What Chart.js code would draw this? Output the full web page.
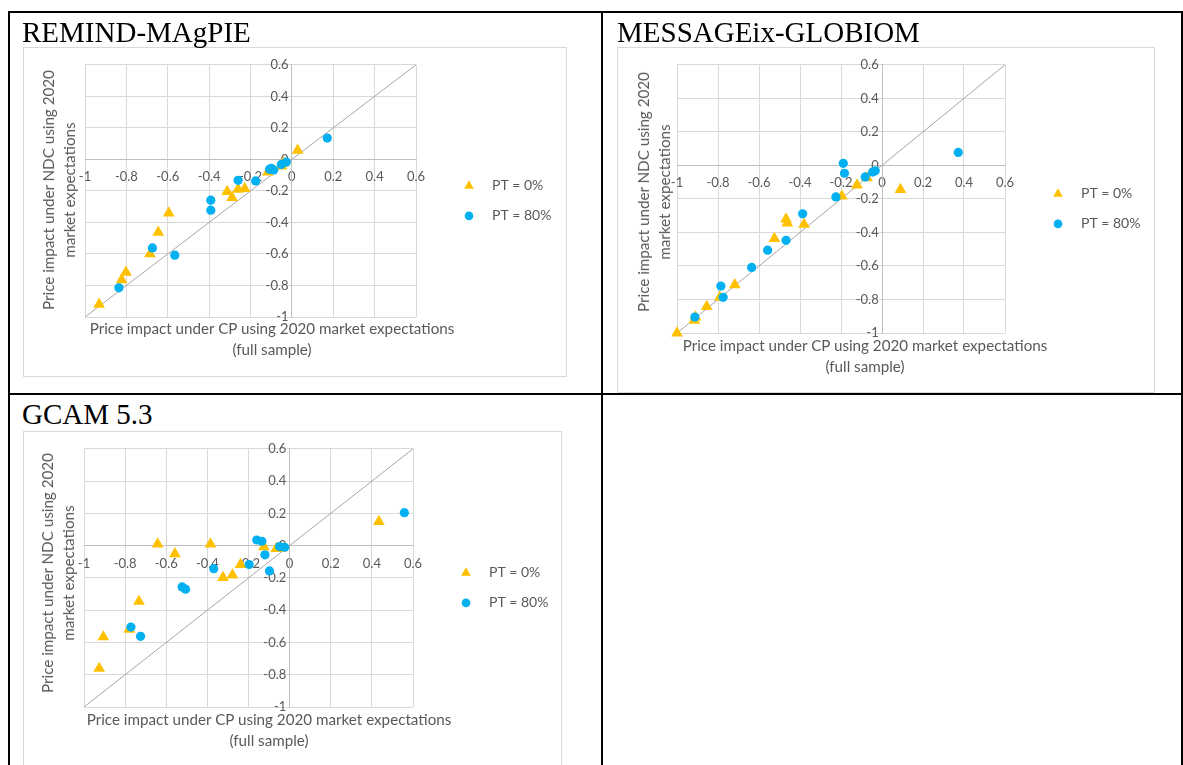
<!DOCTYPE html>
<html>
<head>
<meta charset="utf-8">
<script src="https://cdn.jsdelivr.net/npm/chart.js@4.4.1/dist/chart.umd.min.js"></script>
<style>
  body { margin: 0; background: #fff; width: 1183px; height: 765px; overflow: hidden; position: relative; font-family: Lato, sans-serif; }
  .rule { position: absolute; background: #000; }
  .cap { position: absolute; font-family: "Liberation Serif", "Times New Roman", serif; font-size: 29px; line-height: 28px; color: #000; white-space: nowrap; }
  .panel { position: absolute; }
  .frame { position: absolute; left: 0; top: 0; right: 0; bottom: 0; border: 1px solid #d9d9d9; }
  .panel canvas { position: absolute; left: 0; top: 0; }
  .xt, .yt { position: absolute; color: #595959; font-size: 15.2px; line-height: 21px; text-align: center; white-space: nowrap; }
  .xt { transform: translateX(-50%); }
  .yt { transform: translate(-50%, -50%) rotate(-90deg); }
</style>
</head>
<body>

<div class="rule" style="left:8px;top:11px;width:1175px;height:2px"></div>
<div class="rule" style="left:8px;top:11px;width:2px;height:754px"></div>
<div class="rule" style="left:601px;top:11px;width:2px;height:754px"></div>
<div class="rule" style="left:1181px;top:11px;width:2px;height:754px"></div>
<div class="rule" style="left:8px;top:393px;width:1175px;height:2px"></div>

<div class="panel" style="left:23px;top:47px;width:544px;height:330px">
  <div class="frame"></div>
  <canvas id="remind" width="544" height="330"></canvas>
  <div class="yt" style="left:36px;top:143px">Price impact under NDC using 2020<br>market expectations</div>
  <div class="xt" style="left:249px;top:271px">Price impact under CP using 2020 market expectations<br>(full sample)</div>
</div>

<div class="panel" style="left:617px;top:47px;width:538px;height:346px">
  <div class="frame"></div>
  <canvas id="message" width="538" height="346"></canvas>
  <div class="yt" style="left:37px;top:145px">Price impact under NDC using 2020<br>market expectations</div>
  <div class="xt" style="left:248px;top:288px">Price impact under CP using 2020 market expectations<br>(full sample)</div>
</div>

<div class="panel" style="left:23px;top:431px;width:539px;height:345px">
  <div class="frame"></div>
  <canvas id="gcam" width="539" height="345"></canvas>
  <div class="yt" style="left:35px;top:142px">Price impact under NDC using 2020<br>market expectations</div>
  <div class="xt" style="left:246px;top:278px">Price impact under CP using 2020 market expectations<br>(full sample)</div>
</div>

<div class="cap" style="left:22px;top:18px">REMIND-MAgPIE</div>
<div class="cap" style="left:617px;top:18px">MESSAGEix-GLOBIOM</div>
<div class="cap" style="left:22px;top:400px">GCAM 5.3</div>

<script>
const TICKS = [-1, -0.8, -0.6, -0.4, -0.2, 0, 0.2, 0.4, 0.6];
const DIAGONAL = [-1, 0.6];
const LABELS = ['PT = 0%', 'PT = 80%'];

// REMIND-MAgPIE
const remindPt0X = [-0.932, -0.823, -0.802, -0.686, -0.646, -0.595, -0.313, -0.289, -0.26, -0.228, -0.116, -0.05, -0.042, 0.028];
const remindPt0Y = [-0.92, -0.764, -0.716, -0.6, -0.463, -0.341, -0.204, -0.242, -0.19, -0.185, -0.08, -0.042, -0.023, 0.058];
const remindPt80X = [-0.836, -0.674, -0.566, -0.392, -0.392, -0.26, -0.175, -0.108, -0.1, -0.088, -0.051, -0.027, 0.171];
const remindPt80Y = [-0.815, -0.562, -0.608, -0.259, -0.322, -0.133, -0.137, -0.063, -0.057, -0.067, -0.032, -0.017, 0.135];

// MESSAGEix-GLOBIOM
const messagePt0X = [-1.0, -0.915, -0.91, -0.855, -0.791, -0.718, -0.525, -0.468, -0.462, -0.38, -0.196, -0.122, -0.073, 0.09];
const messagePt0Y = [-1.0, -0.925, -0.905, -0.842, -0.787, -0.713, -0.437, -0.32, -0.345, -0.352, -0.184, -0.118, -0.075, -0.144];
const messagePt80X = [-0.913, -0.786, -0.775, -0.636, -0.558, -0.468, -0.387, -0.225, -0.189, -0.183, -0.082, -0.046, -0.033, 0.372];
const messagePt80Y = [-0.905, -0.72, -0.787, -0.609, -0.506, -0.447, -0.289, -0.188, 0.012, -0.047, -0.069, -0.04, -0.032, 0.077];

// GCAM 5.3
const gcamPt0X = [-0.926, -0.906, -0.78, -0.733, -0.642, -0.558, -0.385, -0.324, -0.278, -0.239, -0.125, -0.065, -0.04, 0.434];
const gcamPt0Y = [-0.761, -0.566, -0.519, -0.346, 0.01, -0.051, 0.01, -0.198, -0.182, -0.117, -0.008, -0.018, -0.015, 0.149];
const gcamPt80X = [-0.772, -0.725, -0.523, -0.506, -0.369, -0.197, -0.16, -0.135, -0.12, -0.098, -0.049, -0.024, 0.558];
const gcamPt80Y = [-0.505, -0.562, -0.256, -0.27, -0.143, -0.117, 0.035, 0.027, -0.057, -0.157, -0.006, -0.01, 0.204];

const ORANGE = '#FFC000';
const BLUE = '#00B0F0';

Chart.defaults.font.family = 'Lato';

function toPoints(xs, ys) {
  return xs.map((x, i) => ({ x: x, y: ys[i] }));
}

function fmtTick(v) {
  return String(Math.round(v * 10) / 10);
}

// excel-like legend: marker, then label further right
const legendMarks = {
  id: 'legendMarks',
  afterDraw(chart) {
    const { ctx, chartArea } = chart;
    const x = chartArea.right + 53;
    let y = (chartArea.top + chartArea.bottom) / 2 - 5;
    ctx.save();
    ctx.font = '14px Lato';
    ctx.textBaseline = 'middle';
    chart.data.datasets.slice(0, 2).forEach(ds => {
      ctx.fillStyle = ds.backgroundColor;
      ctx.beginPath();
      if (ds.pointStyle === 'triangle') {
        const r = 5.6;
        ctx.moveTo(x, y - r);
        ctx.lineTo(x + r * 0.866, y + r * 0.5);
        ctx.lineTo(x - r * 0.866, y + r * 0.5);
        ctx.closePath();
      } else {
        ctx.arc(x, y, 4.3, 0, Math.PI * 2);
      }
      ctx.fill();
      ctx.fillStyle = '#595959';
      ctx.fillText(ds.label, x + 23, y);
      y += 30;
    });
    ctx.restore();
  }
};

function axis(pos, suffix) {
  return {
    type: 'linear',
    min: -1,
    max: 0.6,
    position: pos,
    afterBuildTicks: ax => { ax.ticks = TICKS.map(v => ({ value: v })); },
    grid: { color: '#d9d9d9', drawTicks: false },
    border: { color: '#bfbfbf' },
    ticks: {
      color: '#595959',
      font: { size: 13 },
      padding: 10,
      autoSkip: false,
      maxRotation: 0,
      callback: v => fmtTick(v) + suffix
    }
  };
}

function drawPanel(id, pt0x, pt0y, pt80x, pt80y, pad) {
  new Chart(document.getElementById(id), {
    type: 'scatter',
    data: {
      datasets: [
        { label: LABELS[0], data: toPoints(pt0x, pt0y), pointStyle: 'triangle', pointRadius: 6.8, backgroundColor: ORANGE, borderWidth: 0, clip: false, order: 1 },
        { label: LABELS[1], data: toPoints(pt80x, pt80y), pointStyle: 'circle', pointRadius: 4.6, backgroundColor: BLUE, borderWidth: 0, clip: false, order: 0 },
        { label: 'y = x', data: toPoints(DIAGONAL, DIAGONAL), showLine: true, borderColor: '#a6a6a6', borderWidth: 1, pointRadius: 0, order: 2 }
      ]
    },
    options: {
      responsive: false,
      animation: false,
      devicePixelRatio: 1,
      layout: { padding: pad },
      plugins: { legend: { display: false }, tooltip: { enabled: false } },
      scales: { x: axis({ y: 0 }, ''), y: axis({ x: 0 }, ' ') }
    },
    plugins: [legendMarks]
  });
}

drawPanel('remind', remindPt0X, remindPt0Y, remindPt80X, remindPt80Y, { left: 62, top: 16, right: 151, bottom: 60 });
drawPanel('message', messagePt0X, messagePt0Y, messagePt80X, messagePt80Y, { left: 60, top: 16, right: 150, bottom: 60 });
drawPanel('gcam', gcamPt0X, gcamPt0Y, gcamPt80X, gcamPt80Y, { left: 61, top: 15, right: 149, bottom: 69 });
</script>
</body>
</html>
